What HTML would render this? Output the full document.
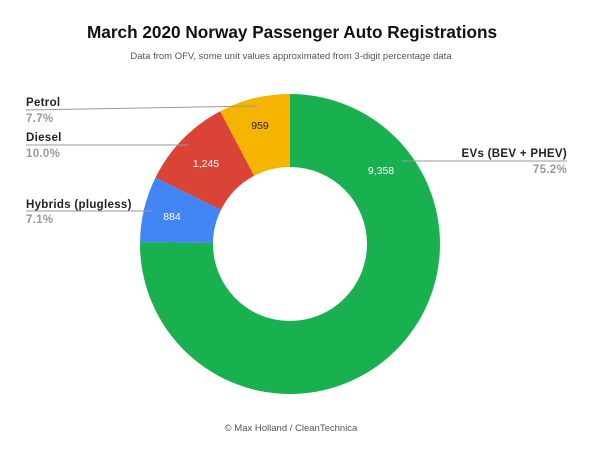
<!DOCTYPE html>
<html><head><meta charset="utf-8"><style>
html,body{margin:0;padding:0;background:#fff;}
svg{display:block;font-family:"Liberation Sans",sans-serif;}
</style></head><body>
<svg width="609" height="454" viewBox="0 0 609 454">
<rect width="609" height="454" fill="#fff"/>
<text x="292" y="38" text-anchor="middle" font-size="17.2" font-weight="bold" fill="#111">March 2020 Norway Passenger Auto Registrations</text>
<text x="291" y="59" text-anchor="middle" font-size="9.5" fill="#555">Data from OFV, some unit values approximated from 3-digit percentage data</text>
<path d="M290 94 A150 150 0 1 1 140.01 242.1 L213 243 A77 77 0 1 0 290 167 Z" fill="#19b14f"/>
<path d="M140.01 242.1 A150 150 0 0 1 155.5 177.6 L221 209.9 A77 77 0 0 0 213 243 Z" fill="#4385f4"/>
<path d="M155.5 177.6 A150 150 0 0 1 220.2 111.2 L254.2 175.8 A77 77 0 0 0 221 209.9 Z" fill="#dc4337"/>
<path d="M220.2 111.2 A150 150 0 0 1 290 94 L290 167 A77 77 0 0 0 254.2 175.8 Z" fill="#f4b400"/>
<g stroke="#999" stroke-width="1">
<line x1="26" y1="110" x2="257" y2="106"/>
<line x1="26" y1="145" x2="188" y2="145"/>
<line x1="26" y1="211" x2="152" y2="211"/>
<line x1="402" y1="161" x2="567" y2="161"/>
</g>
<g font-size="11.5" font-weight="bold" fill="#222" style="letter-spacing:0.3px">
<text x="26" y="106">Petrol</text>
<text x="26" y="141">Diesel</text>
<text x="26" y="208">Hybrids (plugless)</text>
<text x="567" y="157" text-anchor="end">EVs (BEV + PHEV)</text>
</g>
<g font-size="11.5" font-weight="bold" fill="#999" style="letter-spacing:0.3px">
<text x="26" y="122">7.7%</text>
<text x="26" y="157">10.0%</text>
<text x="26" y="223">7.1%</text>
<text x="567" y="173" text-anchor="end">75.2%</text>
</g>
<g font-size="10.5" text-anchor="middle">
<text x="260" y="129" fill="#222">959</text>
<text x="206" y="167" fill="#fff">1,245</text>
<text x="172" y="220" fill="#fff">884</text>
<text x="381" y="174" fill="#fff">9,358</text>
</g>
<text x="291" y="431" text-anchor="middle" font-size="9.5" fill="#555">© Max Holland / CleanTechnica</text>
</svg>
</body></html>
